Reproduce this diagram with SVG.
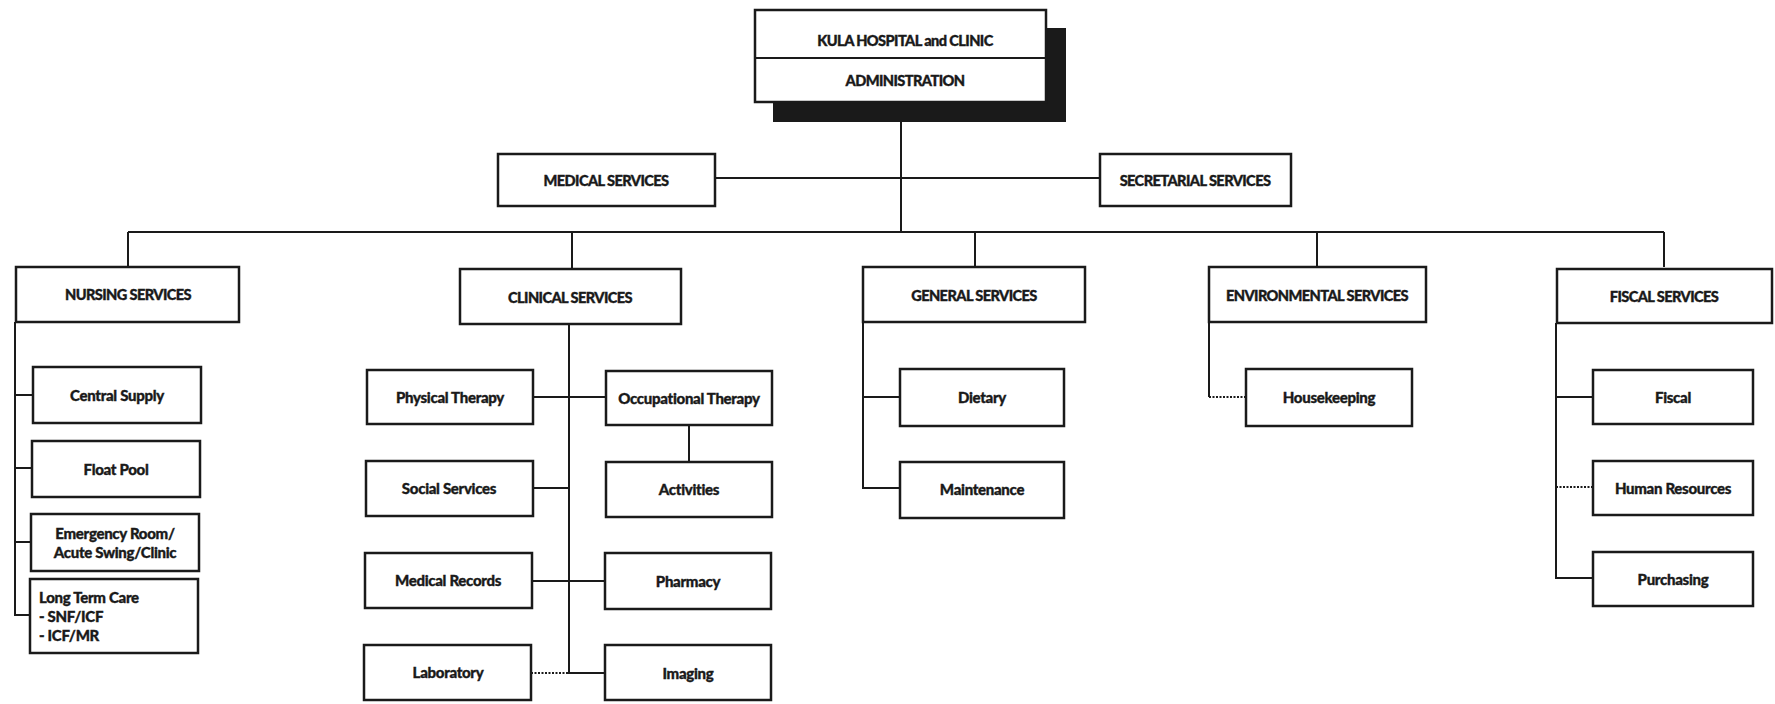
<svg xmlns="http://www.w3.org/2000/svg" width="1775" height="704" viewBox="0 0 1775 704">
<style>
.box{fill:#fff;stroke:#1a1a1a;stroke-width:2.5}
.ln{fill:none;stroke:#1a1a1a;stroke-width:2}
.dot{fill:none;stroke:#1a1a1a;stroke-width:2;stroke-dasharray:2 1.5}
.t{font-family:Lato,"Liberation Sans",sans-serif;font-weight:900;font-size:15px;fill:#1a1a1a;stroke:#1a1a1a;stroke-width:0.35;text-anchor:middle;dominant-baseline:central;letter-spacing:-0.3px}
.cap{letter-spacing:-0.6px;font-size:14.6px}
.l{text-anchor:start}
</style>
<rect width="1775" height="704" fill="#fff"/>
<g id="connectors">
<path class="ln" d="M901 122V232M715 178H1100M128 232H1664M128 232V267M572 232V269M975 232V267M1317 232V267M1664 232V267"/>
<path class="ln" d="M15 322V615H31M15 395H33M15 468H32M15 542H31"/>
<path class="ln" d="M569 324V673H605M533 397H606M533 488H569M532 581H605M689 425V462"/>
<path class="dot" d="M531 673H569"/>
<path class="ln" d="M863 321V488H900M863 397H900"/>
<path class="ln" d="M1209 321V397"/>
<path class="dot" d="M1209 397H1246"/>
<path class="ln" d="M1556 323V578H1593M1556 397H1593"/>
<path class="dot" d="M1556 487H1593"/>
</g>
<g id="admin">
<rect x="773" y="28" width="293" height="94" fill="#1a1a1a"/>
<rect class="box" x="755" y="10" width="291" height="92"/>
<line class="ln" x1="755" y1="58" x2="1046" y2="58"/>
<text class="t cap" x="905" y="40">KULA HOSPITAL and CLINIC</text>
<text class="t cap" x="905" y="80">ADMINISTRATION</text>
</g>
<g id="medical"><rect class="box" x="498" y="154" width="217" height="52"/><text class="t cap" x="606" y="180">MEDICAL SERVICES</text></g>
<g id="secretarial"><rect class="box" x="1100" y="154" width="191" height="52"/><text class="t cap" x="1195" y="180">SECRETARIAL SERVICES</text></g>
<g id="nursing"><rect class="box" x="16" y="267" width="223" height="55"/><text class="t cap" x="128" y="294">NURSING SERVICES</text></g>
<g id="clinical"><rect class="box" x="460" y="269" width="221" height="55"/><text class="t cap" x="570" y="297">CLINICAL SERVICES</text></g>
<g id="general"><rect class="box" x="863" y="267" width="222" height="55"/><text class="t cap" x="974" y="295">GENERAL SERVICES</text></g>
<g id="environmental"><rect class="box" x="1209" y="267" width="217" height="55"/><text class="t cap" x="1317" y="295">ENVIRONMENTAL SERVICES</text></g>
<g id="fiscalservices"><rect class="box" x="1557" y="269" width="215" height="54"/><text class="t cap" x="1664" y="296">FISCAL SERVICES</text></g>
<g id="centralsupply"><rect class="box" x="33" y="367" width="168" height="56"/><text class="t" x="117" y="395">Central Supply</text></g>
<g id="floatpool"><rect class="box" x="32" y="441" width="168" height="56"/><text class="t" x="116" y="469">Float Pool</text></g>
<g id="er"><rect class="box" x="31" y="514" width="168" height="57"/><text class="t" x="115" y="533">Emergency Room/</text><text class="t" x="115" y="552">Acute Swing/Clinic</text></g>
<g id="ltc"><rect class="box" x="30" y="579" width="168" height="74"/><text class="t l" x="39" y="597">Long Term Care</text><text class="t l" x="39" y="616">- SNF/ICF</text><text class="t l" x="39" y="635">- ICF/MR</text></g>
<g id="pt"><rect class="box" x="367" y="370" width="166" height="54"/><text class="t" x="450" y="397">Physical Therapy</text></g>
<g id="ot"><rect class="box" x="606" y="371" width="166" height="54"/><text class="t" x="689" y="398">Occupational Therapy</text></g>
<g id="social"><rect class="box" x="366" y="461" width="167" height="55"/><text class="t" x="449" y="488">Social Services</text></g>
<g id="activities"><rect class="box" x="606" y="462" width="166" height="55"/><text class="t" x="689" y="489">Activities</text></g>
<g id="records"><rect class="box" x="365" y="553" width="167" height="55"/><text class="t" x="448" y="580">Medical Records</text></g>
<g id="pharmacy"><rect class="box" x="605" y="553" width="166" height="56"/><text class="t" x="688" y="581">Pharmacy</text></g>
<g id="laboratory"><rect class="box" x="364" y="645" width="167" height="55"/><text class="t" x="448" y="672">Laboratory</text></g>
<g id="imaging"><rect class="box" x="605" y="645" width="166" height="55"/><text class="t" x="688" y="673">Imaging</text></g>
<g id="dietary"><rect class="box" x="900" y="369" width="164" height="57"/><text class="t" x="982" y="397">Dietary</text></g>
<g id="maintenance"><rect class="box" x="900" y="462" width="164" height="56"/><text class="t" x="982" y="489">Maintenance</text></g>
<g id="housekeeping"><rect class="box" x="1246" y="369" width="166" height="57"/><text class="t" x="1329" y="397">Housekeeping</text></g>
<g id="fiscal"><rect class="box" x="1593" y="370" width="160" height="54"/><text class="t" x="1673" y="397">Fiscal</text></g>
<g id="hr"><rect class="box" x="1593" y="461" width="160" height="54"/><text class="t" x="1673" y="488">Human Resources</text></g>
<g id="purchasing"><rect class="box" x="1593" y="552" width="160" height="54"/><text class="t" x="1673" y="579">Purchasing</text></g>
</svg>
